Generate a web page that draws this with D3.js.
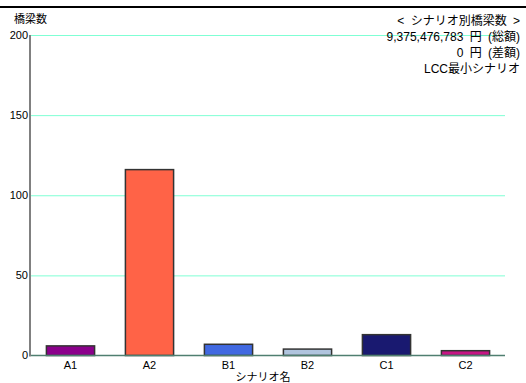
<!DOCTYPE html>
<html>
<head>
<meta charset="utf-8">
<script src="https://cdn.jsdelivr.net/npm/d3@7"></script>
<style>
  html, body { margin: 0; padding: 0; background: #fff; }
  svg { display: block; font-family: "Liberation Sans", "Noto Sans CJK JP", sans-serif; }
</style>
</head>
<body>
<svg id="chart" width="526" height="383"></svg>
<script>
// Bridge counts per scenario
const scenarios = ["A1", "A2", "B1", "B2", "C1", "C2"];
const bridgeCounts = [6, 116, 7, 4, 13, 3];
const barColors = ["#8B008B", "#FF6347", "#4169E1", "#B0C4DE", "#191970", "#C71585"];
const yTicks = [0, 50, 100, 150, 200];
const titleLines = ["< シナリオ別橋梁数 >", "9,375,476,783 円 (総額)", "0 円 (差額)", "LCC最小シナリオ"];

const svg = d3.select("#chart");
const W = 526, H = 383;
const plotLeft = 31, plotRight = 505, plotTop = 35, plotBottom = 355.5;

const x = d3.scaleBand().domain(scenarios).range([plotLeft, plotRight]).paddingInner(0.39).paddingOuter(0.195);
const y = d3.scaleLinear().domain([0, 200]).range([plotBottom, plotTop]);

// top rule
svg.append("line").attr("x1", 0).attr("x2", W).attr("y1", 7).attr("y2", 7)
  .attr("stroke", "#000").attr("stroke-width", 2);

// gridlines
svg.append("g").selectAll("line").data(yTicks.filter(d => d > 0)).join("line")
  .attr("x1", plotLeft).attr("x2", plotRight)
  .attr("y1", d => y(d) + 0.5).attr("y2", d => y(d) + 0.5)
  .attr("stroke", "#7FFFD4").attr("stroke-width", 1);

// y tick labels
svg.append("g").selectAll("text").data(yTicks).join("text")
  .attr("x", 28).attr("y", d => y(d)).attr("dy", "0.36em")
  .attr("text-anchor", "end").attr("font-size", 11).attr("fill", "#000")
  .text(d => d);

// bars
svg.append("g").selectAll("rect").data(scenarios).join("rect")
  .attr("x", d => x(d))
  .attr("y", (d, i) => y(bridgeCounts[i]))
  .attr("width", x.bandwidth())
  .attr("height", (d, i) => y(0) - y(bridgeCounts[i]))
  .attr("fill", (d, i) => barColors[i])
  .attr("stroke", "#333").attr("stroke-width", 1.5);

// x axis line
svg.append("line").attr("x1", plotLeft).attr("x2", plotRight).attr("y1", plotBottom).attr("y2", plotBottom)
  .attr("stroke", "#4F7F70").attr("stroke-width", 1.5);

// y axis line
svg.append("line").attr("x1", 30).attr("x2", 30).attr("y1", plotTop).attr("y2", plotBottom + 1)
  .attr("stroke", "#808080").attr("stroke-width", 2);

// category labels
svg.append("g").selectAll("text").data(scenarios).join("text")
  .attr("x", d => x(d) + x.bandwidth() / 2).attr("y", 369)
  .attr("text-anchor", "middle").attr("font-size", 11).attr("fill", "#000")
  .text(d => d);

// axis titles
svg.append("text").attr("x", 263).attr("y", 381).attr("text-anchor", "middle")
  .attr("font-size", 11).text("シナリオ名");
svg.append("text").attr("x", 14).attr("y", 23)
  .attr("font-size", 11).text("橋梁数");

// title block
svg.append("g").selectAll("text").data(titleLines).join("text")
  .attr("x", 520).attr("y", (d, i) => 25 + i * 16)
  .attr("text-anchor", "end").attr("font-size", 12).attr("fill", "#000")
  .attr("word-spacing", 3)
  .text(d => d);
</script>
</body>
</html>
